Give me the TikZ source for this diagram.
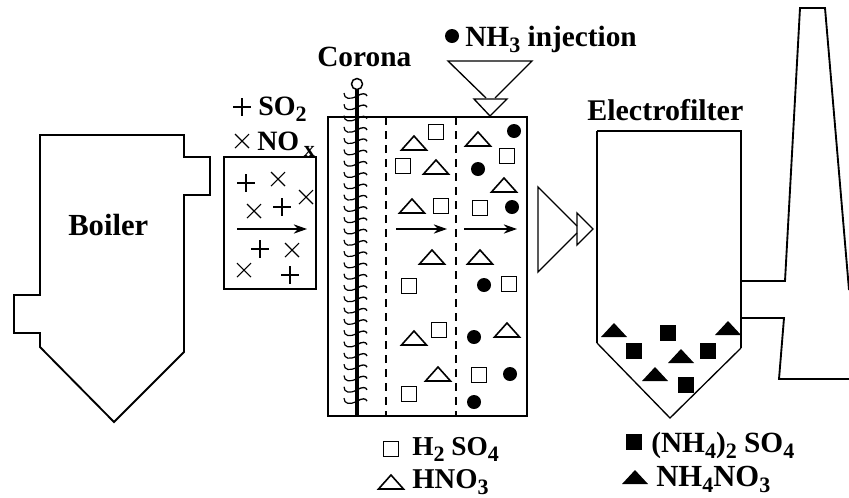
\documentclass[tikz,border=0pt]{standalone}
\usepackage{fontspec}
\setmainfont{Liberation Serif}
\usetikzlibrary{arrows.meta}

\newcommand{\chem}[1]{\raisebox{-0.22em}{\fontsize{16.5}{16}\selectfont #1}}

\begin{document}
\begin{tikzpicture} [
	   x=0.75pt, y=-0.75pt,
	   wall/.style   = { draw, line width=1.4pt, line join=miter },
	   thinwall/.style = { draw, line width=1pt },
	   sieve/.style  = { draw, line width=1.1pt, dash pattern=on 6pt off 4.5pt },
	   flow/.style   = { draw, line width=1pt, -{Stealth[length=10pt,width=7pt]} },
	   caption/.style  = { anchor=base west, inner sep=0pt, font=\fontsize{#1}{24}\selectfont\bfseries },
	   plusmark/.pic   = { \draw[line width=1.2pt] (-9,0) -- (9,0) (0,-9) -- (0,9); },
	   crossmark/.pic  = { \draw[line width=0.8pt] (-7,-7) -- (7,7) (-7,7) -- (7,-7); },
	   sqmark/.pic     = { \draw[line width=1.3pt] (-7.5,-7.5) rectangle (7.5,7.5); },
	   trimark/.pic    = { \draw[line width=1.2pt] (-12.5,7) -- (12.5,7) -- (0,-7) -- cycle; },
	   dotmark/.pic    = { \fill (0,0) circle (7); },
	   solidsq/.pic    = { \fill (-8,-8) rectangle (8,8); },
	   solidtri/.pic   = { \fill (-13,7) -- (13,7) -- (0,-7) -- cycle; },
	 ]
	 \useasboundingbox (0,0) rectangle (849,497);

	 % boiler and gas duct
	 \path[wall] (40,135) -- (184,135) -- (184,157) -- (210,157) -- (210,195) -- (184,195) -- (184,352)
	 	-- (114,422) -- (40,347) -- (40,333) -- (14,333) -- (14,295) -- (40,295) -- cycle;
	 \node[caption=23] (boiler) at (68,235) {Boiler};
	 \path[wall] (224,157) rectangle (316,289);
	 \node[caption=21] (so2) at (258,115) {SO\chem{2}};
	 \node[caption=21] (nox) at (257,150) {NO\,\chem{x}};

	 % reactor
	 \path[wall] (328,117) rectangle (527,416);
	 \path[sieve] (386,117) -- (386,416);
	 \path[sieve] (456,117) -- (456,416);
	 \foreach \y in {96,107.3,...,412} {
	 	\draw[line width=0.9pt] (357,\y) .. controls (350,\y+4) and (344,\y+3) .. (344,\y-3);
	 	\draw[line width=1pt] (357,\y) .. controls (362,\y-3) and (366,\y-3) .. (367,\y);
	 }
	 \draw[line width=3.5pt] (357,89) -- (357,416);
	 \draw[line width=1.1pt, fill=white] (357,84) circle (5.5);
	 \node[caption=22] (corona) at (317,66) {Corona};

	 % nozzle on top
	 \path[thinwall] (486,98) -- (448,61) -- (532,61) -- (495,98);
	 \path[thinwall] (474,99) -- (507,99) -- (490,116) -- cycle;
	 \node[caption=22] (nh3) at (465,46) {NH\chem{3} injection};

	 % nozzle to filter
	 \path[thinwall] (577,226) -- (538,187) -- (538,272) -- (577,233);
	 \path[thinwall] (577,213) -- (593,229) -- (577,245) -- cycle;

	 % electrofilter
	 \path[wall] (597,131) -- (741,131) -- (741,348);
	 \path[thinwall] (741,348) -- (670,418) -- (597,343);
	 \path[wall] (597,343) -- (597,131);
	 \node[caption=22.5] (filter) at (587,120) {Electrofilter};

	 % stack
	 \path[wall] (741,281) -- (785,281) -- (800,8) -- (825,8) -- (849,290);
	 \path[wall] (741,318) -- (784,318) -- (779,379) -- (849,379);

	 % flow arrows
	 \coordinate (in1) at (237,229); \coordinate (out1) at (307,229);
	 \coordinate (in2) at (396,229); \coordinate (out2) at (447,229);
	 \coordinate (in3) at (464,229); \coordinate (out3) at (517,229);
	 \path[flow] (in1) -- (out1);
	 \path[flow] (in2) -- (out2);
	 \path[flow] (in3) -- (out3);

	 % particles
	 \foreach \x/\y in {246/183,282/207,260/249,290/275,242/107}
	 	\pic at (\x,\y) {plusmark};
	 \foreach \x/\y in {278/179,306/197,254/211,292/250,244/270,242/141}
	 	\pic at (\x,\y) {crossmark};
	 \foreach \x/\y in {436/132,403/166,507/156,441/206,480/208,409/286,509/284,439/330,479/375,409/394,391/449}
	 	\pic at (\x,\y) {sqmark};
	 \foreach \x/\y in {414/143,436/167,478/139,504/185,412/206,432/257,480/257,414/338,507/330,438/374,391/482}
	 	\pic at (\x,\y) {trimark};
	 \foreach \x/\y in {514/131,478/169,512/207,484/285,474/337,510/374,474/402,452/36}
	 	\pic at (\x,\y) {dotmark};
	 \foreach \x/\y in {668/333,634/351,708/351,686/385,634/442}
	 	\pic at (\x,\y) {solidsq};
	 \foreach \x/\y in {614/330,728/328,681/356,655/374,635/477}
	 	\pic at (\x,\y) {solidtri};

	 % legend
	 \node[caption=20.5] (h2so4) at (412,455) {H\chem{2} SO\chem{4}};
	 \node[caption=21.5] (hno3) at (412,488) {HNO\chem{3}};
	 \node[caption=22] (nh4so4) at (651,452) {(NH\chem{4})\chem{2} SO\chem{4}};
	 \node[caption=23] (nh4no3) at (656,486) {NH\chem{4}NO\chem{3}};
	\end{tikzpicture}
\end{document}
